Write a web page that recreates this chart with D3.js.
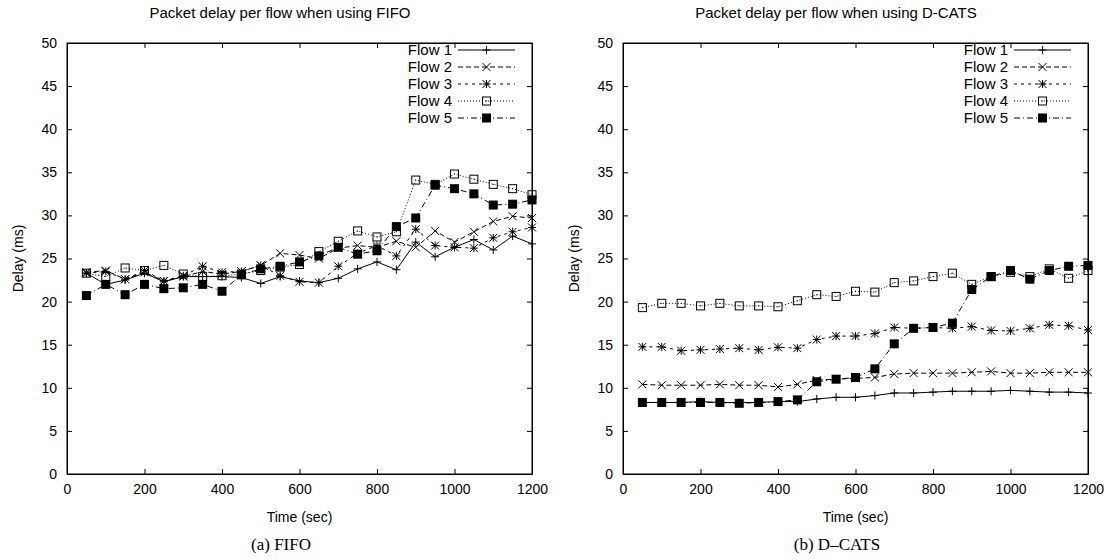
<!DOCTYPE html>
<html>
<head>
<meta charset="utf-8">
<script src="https://cdnjs.cloudflare.com/ajax/libs/d3/7.8.5/d3.min.js"></script>
<style>
  body { margin: 0; background: #fff; }
  svg { display: block; }
  text { font-family: "Liberation Sans", Arial, sans-serif; fill: #000; }
</style>
</head>
<body>
<svg id="chart" width="1110" height="560"></svg>
<script>
'use strict';

// sample times (sec)
const times = [50, 100, 150, 200, 250, 300, 350, 400, 450, 500, 550, 600,
               650, 700, 750, 800, 850, 900, 950, 1000, 1050, 1100, 1150, 1200];

const flowNames = ['Flow 1', 'Flow 2', 'Flow 3', 'Flow 4', 'Flow 5'];
const xTicks = [0, 200, 400, 600, 800, 1000, 1200];
const yTicks = [0, 5, 10, 15, 20, 25, 30, 35, 40, 45, 50];

// FIFO delays (ms)
const fifoFlow1 = [23.3, 22.0, 22.5, 23.3, 22.3, 22.9, 22.9, 22.9, 22.8, 22.1, 22.9, 22.4,
                   22.2, 22.7, 23.8, 24.6, 23.7, 26.9, 25.2, 26.3, 27.2, 26.0, 27.6, 26.7];
const fifoFlow2 = [23.4, 23.6, 22.6, 23.4, 22.4, 22.9, 23.5, 23.2, 23.5, 24.2, 25.6, 25.4,
                   25.0, 26.2, 26.5, 26.3, 27.0, 26.3, 28.2, 26.9, 28.1, 29.3, 29.9, 29.7];
const fifoFlow3 = [23.3, 23.5, 22.6, 23.6, 22.4, 23.0, 24.1, 23.4, 23.5, 24.2, 23.0, 22.3,
                   22.2, 24.1, 25.6, 26.5, 25.3, 28.4, 26.5, 26.3, 26.2, 27.4, 28.1, 28.6];
const fifoFlow4 = [23.3, 22.9, 23.9, 23.6, 24.2, 23.2, 22.9, 23.0, 23.2, 23.6, 24.0, 24.3,
                   25.8, 27.0, 28.2, 27.5, 28.1, 34.1, 33.6, 34.8, 34.2, 33.6, 33.1, 32.4];
const fifoFlow5 = [20.7, 22.0, 20.8, 22.0, 21.5, 21.6, 22.0, 21.2, 23.1, 23.8, 24.1, 24.6,
                   25.3, 26.3, 25.5, 25.9, 28.7, 29.7, 33.5, 33.1, 32.5, 31.2, 31.3, 31.8];

// D-CATS delays (ms)
const dcatsFlow1 = [8.3, 8.3, 8.3, 8.4, 8.3, 8.3, 8.3, 8.4, 8.4, 8.7, 8.9, 8.9,
                    9.1, 9.4, 9.4, 9.5, 9.6, 9.6, 9.6, 9.7, 9.6, 9.5, 9.5, 9.4];
const dcatsFlow2 = [10.4, 10.3, 10.3, 10.3, 10.4, 10.3, 10.3, 10.1, 10.4, 10.9, 11.0, 11.1,
                    11.2, 11.6, 11.7, 11.7, 11.7, 11.8, 11.9, 11.7, 11.7, 11.8, 11.8, 11.8];
const dcatsFlow3 = [14.75, 14.75, 14.3, 14.4, 14.5, 14.6, 14.4, 14.7, 14.6, 15.6, 16.0, 16.0,
                    16.3, 17.0, 16.9, 17.0, 16.9, 17.1, 16.65, 16.6, 16.9, 17.3, 17.2, 16.7];
const dcatsFlow4 = [19.3, 19.8, 19.8, 19.5, 19.8, 19.5, 19.5, 19.4, 20.1, 20.8, 20.6, 21.2,
                    21.1, 22.2, 22.4, 22.9, 23.3, 22.0, 22.9, 23.4, 22.9, 23.8, 22.7, 23.6];
const dcatsFlow5 = [8.3, 8.3, 8.3, 8.3, 8.3, 8.2, 8.3, 8.4, 8.6, 10.7, 11.0, 11.2,
                    12.2, 15.1, 16.9, 17.0, 17.5, 21.4, 22.9, 23.6, 22.6, 23.6, 24.1, 24.2];

// gnuplot-ish line types, one per flow
const dashes = [null, '5,3', '3,4', '1,2', '6,3,1,3'];
const markers = ['plus', 'cross', 'star', 'box', 'fbox'];

const svg = d3.select('#chart');

function drawMarker(g, type, x, y) {
  const s = 4;
  const path = d3.path();
  if (type === 'plus' || type === 'star') {
    path.moveTo(x - s, y); path.lineTo(x + s, y);
    path.moveTo(x, y - s); path.lineTo(x, y + s);
  }
  if (type === 'cross' || type === 'star') {
    path.moveTo(x - s, y - s); path.lineTo(x + s, y + s);
    path.moveTo(x - s, y + s); path.lineTo(x + s, y - s);
  }
  if (path.toString()) {
    g.append('path').attr('d', path.toString())
      .attr('stroke', '#000').attr('stroke-width', 1).attr('fill', 'none');
  }
  if (type === 'box') {
    g.append('rect').attr('x', x - 4).attr('y', y - 4).attr('width', 8).attr('height', 8)
      .attr('fill', 'none').attr('stroke', '#000').attr('stroke-width', 1);
    g.append('rect').attr('x', x - 0.5).attr('y', y - 0.5).attr('width', 1).attr('height', 1)
      .attr('fill', '#000');
  }
  if (type === 'fbox') {
    g.append('rect').attr('x', x - 4.5).attr('y', y - 4.5).attr('width', 9).attr('height', 9)
      .attr('fill', '#000');
  }
}

function drawPanel(offsetX, title, caption, series) {
  const margin = {left: 67, right: 23, top: 43, bottom: 86};
  const width = 555 - margin.left - margin.right;
  const height = 560 - margin.top - margin.bottom;

  const root = svg.append('g').attr('transform', 'translate(' + offsetX + ',0)');
  const g = root.append('g').attr('transform', 'translate(' + margin.left + ',' + margin.top + ')');

  const x = d3.scaleLinear().domain([0, 1200]).range([0, width]);
  const y = d3.scaleLinear().domain([0, 50]).range([height, 0]);

  // axes, ticks inward and mirrored like gnuplot
  g.append('g').attr('transform', 'translate(0,' + height + ')')
    .call(d3.axisBottom(x).tickValues(xTicks).tickFormat(d3.format('d'))
      .tickSizeInner(-5).tickSizeOuter(0).tickPadding(10));
  g.append('g')
    .call(d3.axisLeft(y).tickValues(yTicks).tickFormat(d3.format('d'))
      .tickSizeInner(-5).tickSizeOuter(0).tickPadding(10));
  g.append('g').call(d3.axisTop(x).tickValues(xTicks).tickSizeInner(-5).tickSizeOuter(0).tickFormat(''));
  g.append('g').attr('transform', 'translate(' + width + ',0)')
    .call(d3.axisRight(y).tickValues(yTicks).tickSizeInner(-5).tickSizeOuter(0).tickFormat(''));

  g.selectAll('.domain').attr('stroke', '#000');
  g.selectAll('.tick line').attr('stroke', '#000');
  g.selectAll('.tick text')
    .attr('style', 'font-family: "Liberation Sans", Arial, sans-serif; font-size: 14px;')
    .attr('fill', '#000');

  g.append('rect').attr('width', width).attr('height', height)
    .attr('fill', 'none').attr('stroke', '#000').attr('stroke-width', 1);

  // series lines and markers
  const line = d3.line()
    .x(function(d) { return x(d[0]); })
    .y(function(d) { return y(d[1]); });

  series.forEach(function(vals, i) {
    const pts = times.map(function(t, j) { return [t, vals[j]]; });
    g.append('path')
      .datum(pts)
      .attr('d', line)
      .attr('fill', 'none')
      .attr('stroke', '#000')
      .attr('stroke-width', 1)
      .attr('stroke-dasharray', dashes[i]);
    const mg = g.append('g');
    pts.forEach(function(p) { drawMarker(mg, markers[i], x(p[0]), y(p[1])); });
  });

  // legend (top right, inside)
  const legend = g.append('g');
  flowNames.forEach(function(name, i) {
    const ly = 7 + i * 17;
    legend.append('text')
      .attr('x', width - 80).attr('y', ly).attr('dy', '0.35em')
      .attr('text-anchor', 'end')
      .attr('style', 'font-size: 15px;')
      .text(name);
    legend.append('line')
      .attr('x1', width - 74).attr('x2', width - 17)
      .attr('y1', ly).attr('y2', ly)
      .attr('stroke', '#000').attr('stroke-width', 1)
      .attr('stroke-dasharray', dashes[i]);
    drawMarker(legend, markers[i], width - 45.5, ly);
  });

  // titles and labels
  root.append('text')
    .attr('x', 280).attr('y', 18)
    .attr('text-anchor', 'middle')
    .attr('style', 'font-size: 15px;')
    .text(title);

  root.append('text')
    .attr('x', margin.left + width / 2).attr('y', 522)
    .attr('text-anchor', 'middle')
    .attr('style', 'font-size: 14px;')
    .text('Time (sec)');

  root.append('text')
    .attr('transform', 'translate(18,' + (margin.top + height / 2) + ') rotate(-90)')
    .attr('text-anchor', 'middle')
    .attr('dy', '0.35em')
    .attr('style', 'font-size: 14px;')
    .text('Delay (ms)');

  root.append('text')
    .attr('x', 281).attr('y', 550)
    .attr('text-anchor', 'middle')
    .attr('style', 'font-family: "Liberation Serif", "Times New Roman", serif; font-size: 17px;')
    .text(caption);
}

drawPanel(0, 'Packet delay per flow when using FIFO', '(a) FIFO',
  [fifoFlow1, fifoFlow2, fifoFlow3, fifoFlow4, fifoFlow5]);
drawPanel(556, 'Packet delay per flow when using D-CATS', '(b) D\u2013CATS',
  [dcatsFlow1, dcatsFlow2, dcatsFlow3, dcatsFlow4, dcatsFlow5]);
</script>
</body>
</html>
